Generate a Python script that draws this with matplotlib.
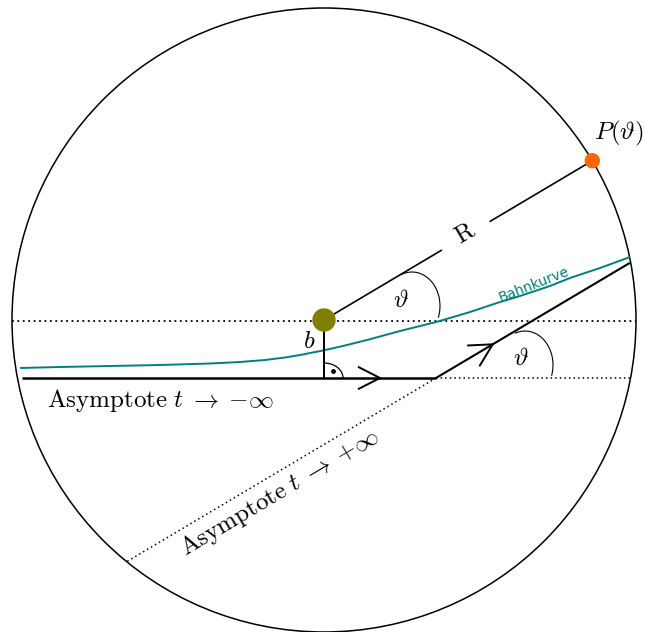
import numpy as np
import matplotlib
matplotlib.use('Agg')
import matplotlib.pyplot as plt
from matplotlib.patches import Circle, Arc

plt.rcParams['mathtext.fontset'] = 'cm'
plt.rcParams['font.family'] = ['DejaVu Sans']

# Geometrie (Pixelkoordinaten des Bildes, y nach unten)
center = (324, 320)
radius = 312
theta_deg = 30.7          # Streuwinkel
asym_y = 378              # Hoehe der einlaufenden Asymptote
asym_x_start = 22
vertex_x = 436            # Knick der Asymptoten

# Bahnkurve
bahn_x = [20, 60, 110, 160, 210, 240, 265, 285, 300, 323, 345, 367, 400, 438, 470, 500, 520, 550, 570, 600, 630]
bahn_y = [368, 367, 366, 365, 363.5, 362, 360, 357.5, 355, 350.5, 345.5, 340, 331, 321.5, 312, 302, 296, 286, 278, 268, 257]

fig = plt.figure(figsize=(6.45, 6.32), dpi=100)
ax = fig.add_axes([0, 0, 1, 1])
ax.set_xlim(0, 645)
ax.set_ylim(632, 0)
ax.set_aspect('equal')
ax.axis('off')

cx, cy = center
th = np.deg2rad(theta_deg)
ux, uy = np.cos(th), -np.sin(th)
fs = 18

# Kreis
ax.add_patch(Circle(center, radius, fill=False, lw=1.1, color='black'))

# gepunktete Horizontale durch das Streuzentrum
ax.plot([cx - radius, cx + radius], [cy + 1, cy + 1], color='black', lw=1.3, ls=(0, (1, 2)))

# Bahnkurve
ax.plot(bahn_x, bahn_y, color='#008080', lw=1.4, solid_capstyle='butt')
ax.text(534, 285, 'Bahnkurve', color='#008080', fontsize=10, rotation=21.5,
        ha='center', va='center', rotation_mode='anchor')

# Linie zum Detektor mit Luecke fuer R
px, py = cx + radius * ux, cy + radius * uy
t1, t2 = 0.437, 0.62
ax.plot([cx, cx + radius * t1 * ux], [cy, cy + radius * t1 * uy], color='black', lw=1.2)
ax.plot([cx + radius * t2 * ux, px], [cy + radius * t2 * uy, py], color='black', lw=1.2)
ax.text(465, 233, r'$\mathrm{R}$', fontsize=fs, rotation=theta_deg, ha='center', va='center',
        rotation_mode='anchor')

# Detektorpunkt
ax.add_patch(Circle((px, py), 7, color='#ff6600', zorder=5))
ax.text(619, 133, r'$P(\vartheta)$', fontsize=fs, ha='center', va='center')

# Stossparameter b
ax.plot([cx, cx], [cy, asym_y], color='black', lw=1.4)
ax.text(309, 341, r'$b$', fontsize=fs, ha='center', va='center')
ax.add_patch(Arc((cx, asym_y), 38, 30, theta1=-90, theta2=0, lw=0.9, color='black'))
ax.plot([332.5], [370.5], 'o', color='black', ms=2.5)

# einlaufende Asymptote
ax.plot([asym_x_start, vertex_x], [asym_y, asym_y], color='black', lw=1.8, solid_capstyle='butt')
ax.plot([vertex_x, cx + np.sqrt(radius**2 - (asym_y - cy)**2)], [asym_y, asym_y],
        color='black', lw=1.1, ls=(0, (1, 2)))
ax.text(160, 401, r'$\mathrm{Asymptote}\ t\;\to\;{-}\infty$', fontsize=fs, ha='center', va='center')


def circle_hit(x0, y0, dx, dy):
    # Schnitt des Strahls mit dem Kreis
    fx, fy = x0 - cx, y0 - cy
    b_ = fx * dx + fy * dy
    c_ = fx**2 + fy**2 - radius**2
    return -b_ + np.sqrt(b_**2 - c_)


# auslaufende Asymptote
s_out = circle_hit(vertex_x, asym_y, ux, uy) - 2
ax.plot([vertex_x, vertex_x + s_out * ux], [asym_y, asym_y + s_out * uy], color='black', lw=1.5)
s_back = circle_hit(vertex_x, asym_y, -ux, -uy)
ax.plot([vertex_x, vertex_x - s_back * ux], [asym_y, asym_y - s_back * uy],
        color='black', lw=1.1, ls=(0, (1, 2)))
ax.text(280, 493, r'$\mathrm{Asymptote}\ t\;\to\;{+}\infty$', fontsize=fs, rotation=theta_deg,
        ha='center', va='center', rotation_mode='anchor')


# Pfeilspitzen
def chevron(tx, ty, ang_deg, half=28, length=25, lw=1.4):
    for s in (-1, 1):
        a = np.deg2rad(ang_deg + 180 + s * half)
        ax.plot([tx, tx + length * np.cos(a)], [ty, ty - length * np.sin(a)],
                color='black', lw=lw, solid_capstyle='round')


chevron(380, asym_y, 0, half=27, length=24)
chevron(vertex_x + 66 * ux, asym_y + 66 * uy, theta_deg)

# Winkelboegen
ax.add_patch(Arc((412, 306), 56, 68, theta1=-108, theta2=24, lw=0.8, color='black'))
ax.text(401, 300, r'$\vartheta$', fontsize=fs, ha='center', va='center')
ax.add_patch(Arc((525, 365), 56, 68, theta1=-108, theta2=22, lw=0.8, color='black'))
ax.text(521, 358, r'$\vartheta$', fontsize=fs, ha='center', va='center')

# Streuzentrum
ax.add_patch(Circle(center, 11, color='#808000', zorder=5))

fig.savefig('out.png', dpi=100)
